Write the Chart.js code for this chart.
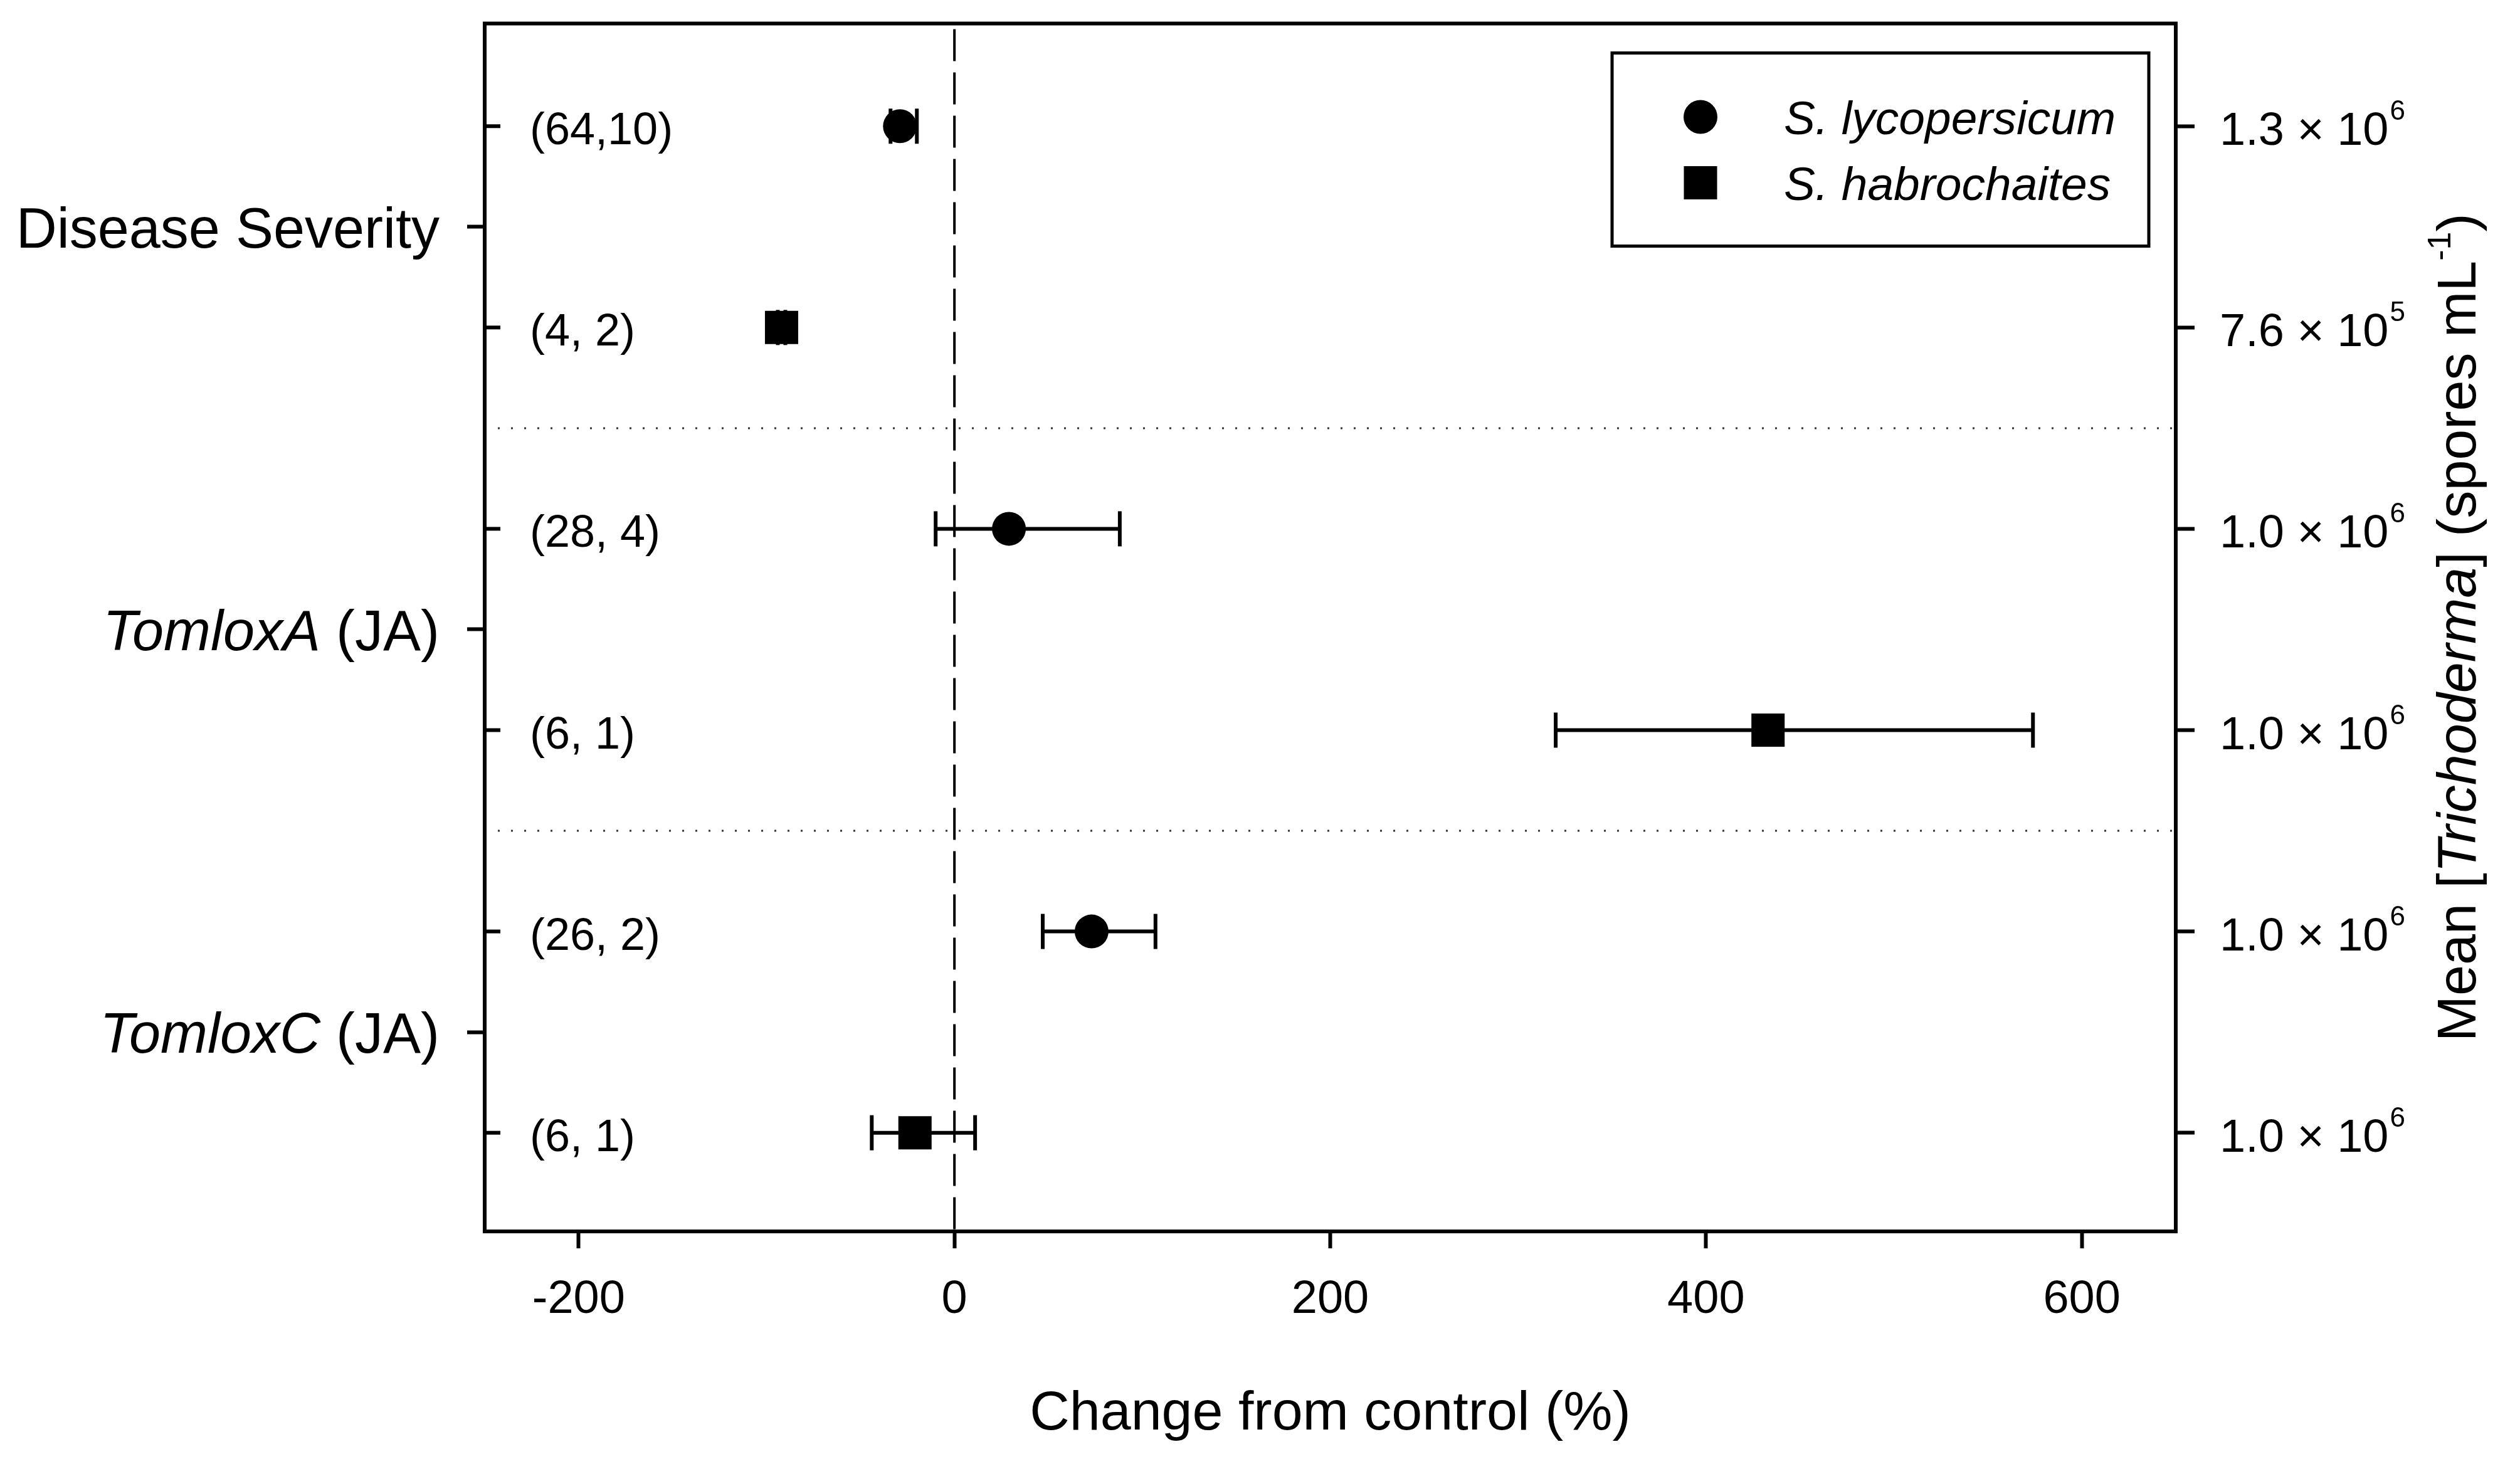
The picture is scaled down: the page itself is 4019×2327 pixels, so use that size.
<!DOCTYPE html>
<html>
<head>
<meta charset="utf-8">
<title>Change from control</title>
<script src="https://cdn.jsdelivr.net/npm/chart.js@4.4.1/dist/chart.umd.min.js"></script>
<style>
  html, body { margin: 0; padding: 0; background: #fff; }
  #wrap { width: 4019px; height: 2327px; }
</style>
</head>
<body>
<div id="wrap"><canvas id="myChart"></canvas></div>
<script>
// rows on the y axis, 1 is the top row
var rowPos = [1, 2, 3, 4, 5, 6]
var rowLabels = ['(64,10)', '(4, 2)', '(28, 4)', '(6, 1)', '(26, 2)', '(6, 1)']
// mean Trichoderma concentration per row (mantissa x 10^exp)
var sporeMant = ['1.3', '7.6', '1.0', '1.0', '1.0', '1.0']
var sporeExp = ['6', '5', '6', '6', '6', '6']
// group names, italic gene part + plain part
var groupPos = [1.5, 3.5, 5.5]
var groupItalic = ['', 'TomloxA', 'TomloxC']
var groupPlain = ['Disease Severity', ' (JA)', ' (JA)']
var separators = [2.5, 4.5]
var xTicks = [-200, 0, 200, 400, 600]

// S. lycopersicum
var lycoRows = [1, 3, 5]
var lycoMean = [-29, 29, 73]
var lycoLow = [-34, -10, 47]
var lycoHigh = [-20, 88, 107]
// S. habrochaites
var habroRows = [2, 4, 6]
var habroMean = [-92, 433, -21]
var habroLow = [-94, 320, -44]
var habroHigh = [-90, 574, 11]

var FONT = '"Liberation Sans", Arial, sans-serif'
Chart.defaults.font.family = FONT
Chart.defaults.color = '#000'

function toPoints (rows, mean, low, high) {
  return rows.map(function (r, i) {
    return { x: mean[i], y: r, low: low[i], high: high[i] }
  })
}

function line (ctx, x1, y1, x2, y2) {
  ctx.beginPath()
  ctx.moveTo(x1, y1)
  ctx.lineTo(x2, y2)
  ctx.stroke()
}

// draws mixed-style text pieces from left to right, returns the end x
function pieces (ctx, parts, x, y) {
  parts.forEach(function (p) {
    ctx.font = p.font
    ctx.fillText(p.text, x, y + (p.dy || 0))
    x += ctx.measureText(p.text).width
  })
  return x
}
function piecesWidth (ctx, parts) {
  var w = 0
  parts.forEach(function (p) {
    ctx.font = p.font
    w += ctx.measureText(p.text).width
  })
  return w
}

var extras = {
  id: 'extras',
  beforeDatasetsDraw: function (chart) {
    var ctx = chart.ctx
    var a = chart.chartArea
    var x = chart.scales.x
    var y = chart.scales.y
    ctx.save()
    // dotted lines between the groups
    ctx.strokeStyle = '#333'
    ctx.lineWidth = 3
    ctx.setLineDash([3, 18])
    separators.forEach(function (s) {
      var py = y.getPixelForValue(s)
      line(ctx, a.left, py, a.right, py)
    })
    // dashed line at zero
    ctx.strokeStyle = '#000'
    ctx.lineWidth = 4
    ctx.setLineDash([51, 18])
    var x0 = x.getPixelForValue(0)
    line(ctx, x0, a.top + 9, x0, a.bottom)
    ctx.setLineDash([])
    // error bars
    ctx.lineWidth = 6
    chart.data.datasets.forEach(function (ds) {
      ds.data.forEach(function (p) {
        var py = y.getPixelForValue(p.y)
        var l = x.getPixelForValue(p.low)
        var h = x.getPixelForValue(p.high)
        line(ctx, l, py, h, py)
        line(ctx, l, py - 28, l, py + 28)
        line(ctx, h, py - 28, h, py + 28)
      })
    })
    ctx.restore()
  },
  afterDraw: function (chart) {
    var ctx = chart.ctx
    var a = chart.chartArea
    var y = chart.scales.y
    ctx.save()
    ctx.fillStyle = '#000'
    ctx.strokeStyle = '#000'

    // frame
    ctx.lineWidth = 6
    ctx.strokeRect(a.left, a.top, a.right - a.left, a.bottom - a.top)
    // small inward ticks at each row
    rowPos.forEach(function (r) {
      var py = y.getPixelForValue(r)
      line(ctx, a.left, py, a.left + 25, py)
    })

    // row labels inside the plot
    ctx.font = '72px ' + FONT
    ctx.textAlign = 'left'
    ctx.textBaseline = 'alphabetic'
    rowPos.forEach(function (r, i) {
      ctx.fillText(rowLabels[i], a.left + 72, y.getPixelForValue(r) + 29)
    })

    // group labels on the left
    groupPos.forEach(function (g, i) {
      var parts = [
        { text: groupItalic[i], font: 'italic 90px ' + FONT },
        { text: groupPlain[i], font: '90px ' + FONT }
      ]
      var w = piecesWidth(ctx, parts)
      pieces(ctx, parts, a.left - 72 - w, y.getPixelForValue(g) + 33)
    })

    // spore concentrations on the right
    rowPos.forEach(function (r, i) {
      var py = y.getPixelForValue(r) + 30
      var end = pieces(ctx, [{ text: sporeMant[i] + ' \u00d7 10', font: '74px ' + FONT }], a.right + 70, py)
      pieces(ctx, [{ text: sporeExp[i], font: '44px ' + FONT }], end + 2, py - 40)
    })

    // bottom axis title
    ctx.font = '88px ' + FONT
    ctx.textAlign = 'center'
    ctx.fillText('Change from control (%)', (a.left + a.right) / 2, 2280)

    // right axis title, rotated
    ctx.textAlign = 'left'
    var title = [
      { text: 'Mean [', font: '88px ' + FONT },
      { text: 'Trichoderma', font: 'italic 88px ' + FONT },
      { text: '] (spores mL', font: '88px ' + FONT },
      { text: '-1', font: '52px ' + FONT, dy: -40 },
      { text: ')', font: '88px ' + FONT }
    ]
    var tw = piecesWidth(ctx, title)
    ctx.translate(3948, (a.top + a.bottom) / 2)
    ctx.rotate(-Math.PI / 2)
    pieces(ctx, title, -tw / 2, 0)
    ctx.setTransform(1, 0, 0, 1, 0, 0)

    // legend box
    var bx = a.right - 899
    var by = a.top + 47
    ctx.lineWidth = 5
    ctx.strokeRect(bx, by, 856, 308)
    ctx.beginPath()
    ctx.arc(bx + 141, by + 102, 27, 0, Math.PI * 2)
    ctx.fill()
    ctx.fillRect(bx + 141 - 26.5, by + 207 - 26.5, 53, 53)
    ctx.font = 'italic 75px ' + FONT
    ctx.fillText('S. lycopersicum', bx + 274, by + 102 + 27)
    ctx.fillText('S. habrochaites', bx + 274, by + 207 + 27)
    ctx.restore()
  }
}

var ctx = document.getElementById('myChart')
var myChart = new Chart(ctx, {
  type: 'scatter',
  data: {
    datasets: [{
      label: 'S. lycopersicum',
      data: toPoints(lycoRows, lycoMean, lycoLow, lycoHigh),
      pointStyle: 'circle',
      pointRadius: 27,
      backgroundColor: '#000',
      borderWidth: 0
    }, {
      label: 'S. habrochaites',
      data: toPoints(habroRows, habroMean, habroLow, habroHigh),
      pointStyle: 'rect',
      pointRadius: 37.5,
      backgroundColor: '#000',
      borderWidth: 0
    }]
  },
  options: {
    responsive: true,
    maintainAspectRatio: false,
    animation: false,
    layout: { padding: { top: 27, left: 0, right: 0, bottom: 0 } },
    plugins: {
      legend: { display: false },
      tooltip: { enabled: false }
    },
    scales: {
      x: {
        type: 'linear',
        min: -250,
        max: 650,
        afterBuildTicks: function (s) { s.ticks = xTicks.map(function (v) { return { value: v } }) },
        afterFit: function (s) { s.height = 363 },
        ticks: {
          font: { size: 74 },
          color: '#000',
          padding: 38,
          maxRotation: 0,
          callback: function (v) { return String(v) }
        },
        grid: { drawOnChartArea: false, tickLength: 27, tickWidth: 6, tickColor: '#000' },
        border: { display: false }
      },
      y: {
        type: 'linear',
        position: 'left',
        reverse: true,
        min: 0.49,
        max: 6.49,
        afterBuildTicks: function (s) { s.ticks = groupPos.map(function (v) { return { value: v } }) },
        afterFit: function (s) { s.width = 773 },
        ticks: { display: false },
        grid: { drawOnChartArea: false, tickLength: 28, tickWidth: 6, tickColor: '#000' },
        border: { display: false }
      },
      y2: {
        type: 'linear',
        position: 'right',
        reverse: true,
        min: 0.49,
        max: 6.49,
        afterBuildTicks: function (s) { s.ticks = rowPos.map(function (v) { return { value: v } }) },
        afterFit: function (s) { s.width = 549 },
        ticks: { display: false },
        grid: { drawOnChartArea: false, tickLength: 30, tickWidth: 6, tickColor: '#000' },
        border: { display: false }
      }
    }
  },
  plugins: [extras]
})
</script>
</body>
</html>
